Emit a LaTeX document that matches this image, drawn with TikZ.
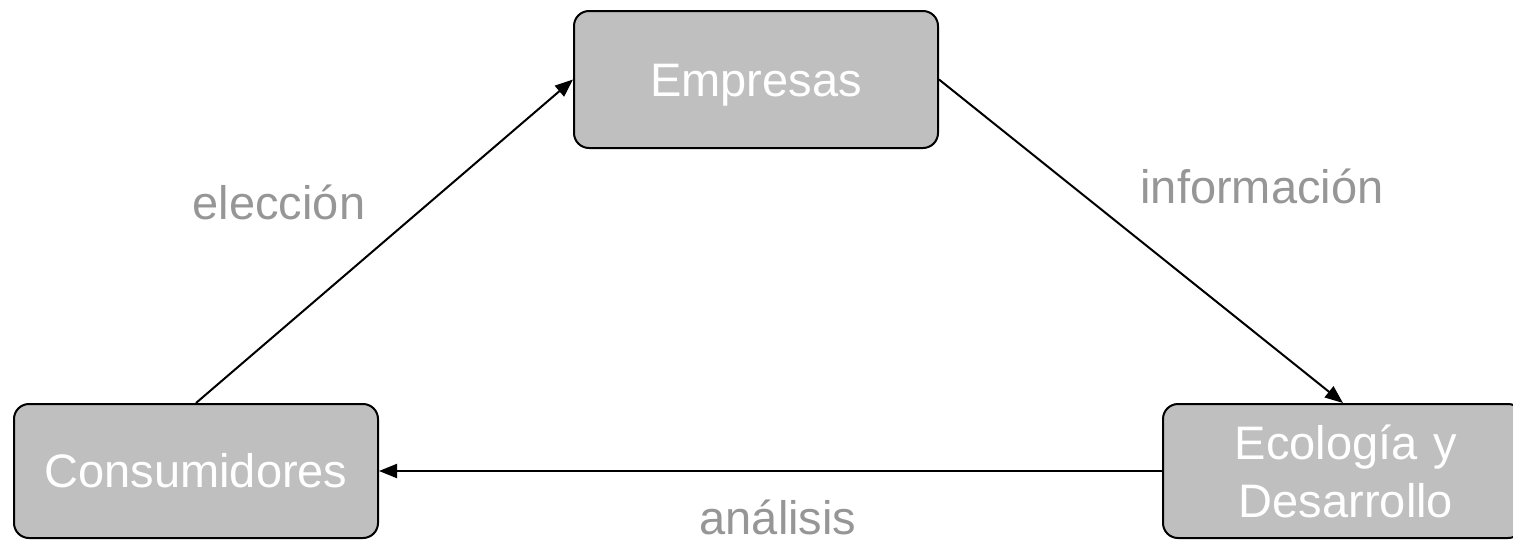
\documentclass[tikz,border=0pt]{standalone}
\usepackage{fontspec}
\setmainfont{Liberation Sans}
\usetikzlibrary{arrows.meta}
\definecolor{boxgray}{RGB}{191,191,191}
\definecolor{labelgray}{RGB}{150,150,150}
\tikzset{
  box/.style={draw=black, line width=2pt, fill=boxgray, rounded corners=15pt,
    inner sep=0pt, text=white, align=center,
    font=\fontsize{47}{58}\selectfont},
  conn/.style={draw=black, line width=2pt, -{Triangle[length=18pt,width=14pt]}},
  lbl/.style={text=labelgray, inner sep=0pt, anchor=base, font=\fontsize{47}{58}\selectfont}
}
\begin{document}
\begin{tikzpicture}[x=1pt,y=-1pt]
\useasboundingbox (0,0) rectangle (1513,539);
\node[box, minimum width=364pt, minimum height=137pt, text height=34pt, text depth=0pt] (emp) at (756,79.5) {Empresas};
\node[box, minimum width=364pt, minimum height=134pt] (cons) at (196,471) {Consumidores};
\node[box, minimum width=360pt, minimum height=134pt, text width=360pt] (eco) at (1343,471) {\hspace*{6pt}Ecología y\\\hspace*{6pt}Desarrollo};
\draw[conn] (cons.north) -- (emp.west);
\draw[conn] (emp.east) -- (eco.north);
\draw[conn] (eco.west) -- (cons.east);
\node[lbl] (l1) at (279,219) {elección};
\node[lbl] (l2) at (1262,203) {información};
\node[lbl] (l3) at (778,534) {análisis};
\end{tikzpicture}
\end{document}
